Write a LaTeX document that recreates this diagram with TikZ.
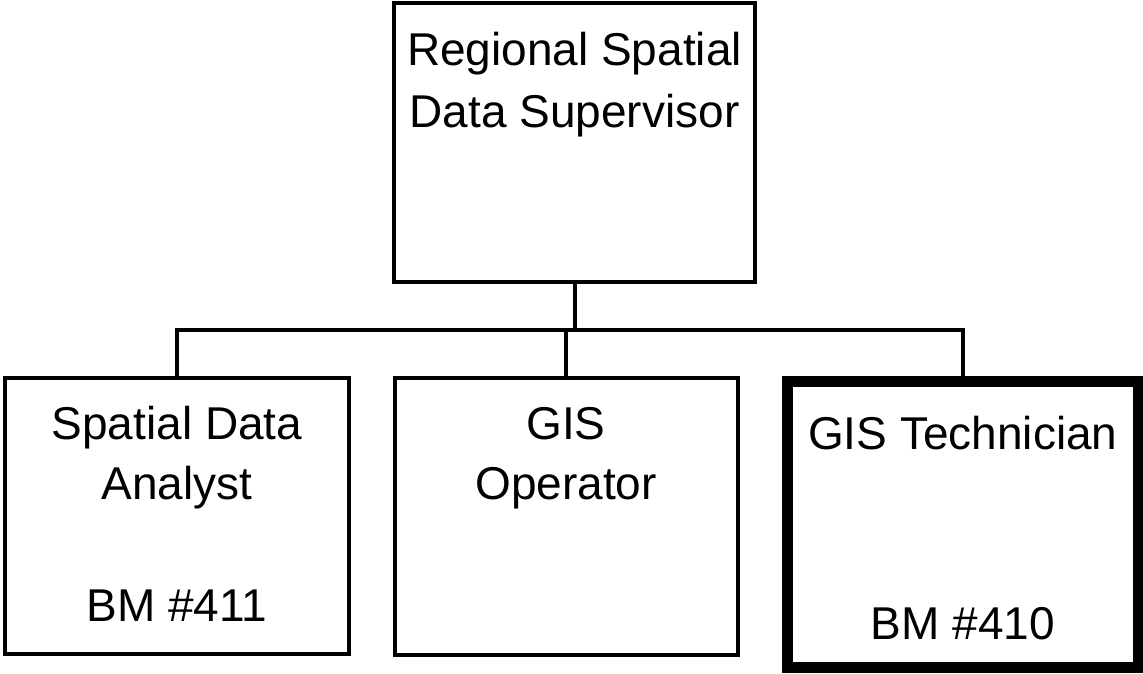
\documentclass[tikz,border=0pt]{standalone}
\usepackage{fontspec}
\setmainfont{Liberation Sans}
\begin{document}
\begin{tikzpicture}[x=1pt,y=1pt,
  box/.style={draw=black,line width=4pt,rectangle,inner sep=0pt,fill=white},
  focus/.style={box,line width=11pt},
  wire/.style={draw=black,line width=4pt},
  txt/.style={anchor=base,inner sep=0pt,font=\fontsize{46}{62}\selectfont}]
\useasboundingbox[fill=white] (0,0) rectangle (1143,674);

% boxes
\node[box,minimum width=361pt,minimum height=278.5pt] (top) at (574.5,531.25) {};
\node[box,minimum width=344pt,minimum height=276.5pt] (left) at (177,157.75) {};
\node[box,minimum width=343.5pt,minimum height=277pt] (mid) at (566.25,157.5) {};
\node[focus,minimum width=350.5pt,minimum height=286pt] (right) at (962.75,149) {};

% connectors
\coordinate (bus) at (574.5,344);
\draw[wire] (top.south) -- (bus);
\draw[wire] (left.north) |- (bus);
\draw[wire] (right.north) |- (bus);
\draw[wire] (mid.north) -- (mid.north |- bus);

% labels
\node[txt] (t1) at (574.5,608) {Regional Spatial};
\node[txt] (t2) at (574.5,546) {Data Supervisor};
\node[txt] (l1) at (177,234) {Spatial Data};
\node[txt] (l2) at (177,174) {Analyst};
\node[txt] (l3) at (177,52) {BM \#411};
\node[txt] (m1) at (566,234) {GIS};
\node[txt] (m2) at (566,174) {Operator};
\node[txt] (r1) at (962.75,224) {GIS Technician};
\node[txt] (r2) at (962.75,34) {BM \#410};
\end{tikzpicture}
\end{document}
